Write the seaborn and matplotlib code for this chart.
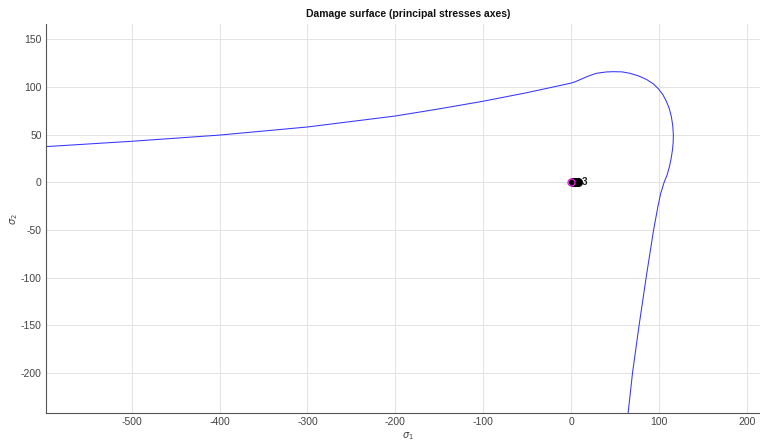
import numpy as np
import pandas as pd
import matplotlib
matplotlib.use("Agg")
import matplotlib.pyplot as plt
import seaborn as sns

# ---- data (principal stresses) ----
left_s1 = [-620, -596, -500, -400, -300, -200, -150, -100, -50, -25, 0]
left_s2 = [36.5, 37.5, 43, 49.5, 58, 69.5, 77, 85, 94, 99, 104]

lobe_s1 = [5, 10, 20, 29, 40, 48, 58, 67, 77, 86, 93.7, 99.5, 104.5, 108.5, 111.8,
           114.2, 115.8, 116.5, 116.3, 115.5, 114, 112, 109.5, 106]
lobe_s2 = [105.5, 107.5, 111.5, 114.3, 115.7, 116, 115.8, 114.3, 111.5, 107.8,
           103.2, 98, 92, 85, 77.5, 69, 59.5, 49.6, 42, 34, 25, 16.4, 8, 0]

bottom_s1 = [102, 99, 94, 85.5, 77.5, 70, 65, 63]
bottom_s2 = [-12, -25, -50, -100, -150, -200, -242, -260]

point_s1 = [0]
point_s2 = [0]
label_s1 = [2, 5, 8]
label_s2 = [0, 0, 0]
label_text = "3"

title = "Damage surface (principal stresses axes)"
xticks = [-500, -400, -300, -200, -100, 0, 100, 200]
yticks = [-200, -150, -100, -50, 0, 50, 100, 150]

sns.set_style("white")
plt.rcParams["font.family"] = ["Liberation Sans", "DejaVu Sans"]
plt.rcParams["axes.unicode_minus"] = False

s1 = left_s1 + lobe_s1 + bottom_s1
s2 = left_s2 + lobe_s2 + bottom_s2
df = pd.DataFrame({"s1": s1, "s2": s2})

fig = plt.figure(figsize=(7.6, 4.41), dpi=100)
ax = fig.add_axes([46 / 760, (441 - 413.3) / 441, 724 / 760, 389.3 / 441])

sns.lineplot(data=df, x="s1", y="s2", sort=False, estimator=None,
             color="#3535ff", linewidth=0.75, ax=ax)

ax.plot(label_s1, label_s2, "o", color="black", markersize=5.5, zorder=4)
ax.plot(point_s1, point_s2, "o", markerfacecolor="none", markeredgecolor="#e020e0",
        markersize=5, markeredgewidth=1.0, zorder=5)
ax.text(12.5, 0, label_text, fontsize=7, fontweight="bold", color="#202020",
        va="center", ha="left", zorder=6)

ax.set_xlim(-597.6, 226.5)
ax.set_ylim(-242.3, 166)
ax.set_xticks(xticks)
ax.set_yticks(yticks)
ax.grid(True, color="#e3e3e3", linewidth=0.7)
ax.set_axisbelow(True)

for side in ["top", "right"]:
    ax.spines[side].set_visible(False)
for side in ["left", "bottom"]:
    ax.spines[side].set_color("#555555")
    ax.spines[side].set_linewidth(0.8)

ax.tick_params(direction="in", length=4, width=0.6, color="#555555",
               labelsize=7.5, labelcolor="#444444", pad=3)

ax.set_xlabel(r"$\sigma_1$", fontsize=7, color="#444444", labelpad=2)
ax.set_ylabel(r"$\sigma_2$", fontsize=7, color="#444444", labelpad=1)
ax.set_title(title, fontsize=7.5, fontweight="bold", color="#111111", pad=5)

fig.savefig("out.png", dpi=100)
